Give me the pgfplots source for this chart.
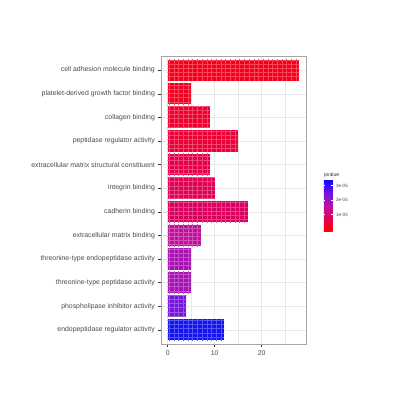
\documentclass[border=0pt]{standalone}
\usepackage{fontspec}
\setmainfont{Liberation Sans}
\usepackage{pgfplots}
\pgfplotsset{compat=1.18}
\usetikzlibrary{patterns.meta,calc}
\definecolor{c1}{HTML}{F5001A}
\definecolor{c2}{HTML}{F20022}
\definecolor{c3}{HTML}{EE002E}
\definecolor{c4}{HTML}{EB0038}
\definecolor{c5}{HTML}{E6004A}
\definecolor{c6}{HTML}{E20055}
\definecolor{c7}{HTML}{DC005E}
\definecolor{c8}{HTML}{C0109C}
\definecolor{c9}{HTML}{A812B4}
\definecolor{c10}{HTML}{A812B4}
\definecolor{c11}{HTML}{7414DC}
\definecolor{c12}{HTML}{1414F0}
\pgfplotsset{tile/.style={xbar, bar width=0.9, bar shift=0pt, draw=none, fill=#1,
  postaction={pattern={Lines[distance=4.7pt,angle=90,line width=0.5pt]}, pattern color=#1!72!white},
  postaction={pattern={Lines[distance=4.2pt,angle=0,line width=0.5pt]}, pattern color=#1!72!white}}}
\begin{document}
\begin{tikzpicture}
\path[use as bounding box, fill=white] (0,0) rectangle (400pt,400pt);
\begin{axis}[
  at={(161.1pt,56pt)}, anchor=south west,
  scale only axis, width=144.8pt, height=288pt,
  xmin=-1.4, xmax=29.4, ymin=0.4, ymax=12.6,
  xtick={0,10,20}, minor xtick={5,15,25},
  ytick={1,...,12},
  yticklabels={endopeptidase regulator activity, phospholipase inhibitor activity, threonine-type peptidase activity, threonine-type endopeptidase activity, extracellular matrix binding, cadherin binding, integrin binding, extracellular matrix structural constituent, peptidase regulator activity, collagen binding, platelet-derived growth factor binding, cell adhesion molecule binding},
  grid=both,
  major grid style={color=black!9, line width=0.5pt},
  minor grid style={color=black!9, line width=0.25pt},
  axis line style={black!35, line width=0.5pt},
  tick align=outside, tick pos=left,
  major tick length=2.7pt, minor tick length=0pt,
  tick style={color=black!80, line width=0.5pt},
  ticklabel style={font=\fontsize{6.9}{8}\selectfont, text=black!70},
  /pgf/number format/assume math mode=true,
  colormap={pv}{rgb255=(255,0,0) rgb255=(228,0,85) rgb255=(185,15,165) rgb255=(110,20,225) rgb255=(10,10,252)},
  point meta min=-0.15, point meta max=3.4,
  colorbar,
  colorbar style={
    at={($(parent axis.north east)+(9.4pt,-123.7pt)$)}, anchor=north west,
    scale only axis, width=8.7pt, height=51.6pt,
    ytick={1,2,3}, yticklabels={1e-05,2e-05,3e-05},
    yticklabel style={font=\fontsize{4.6}{5}\selectfont, text=black!70},
    /pgf/number format/assume math mode=true,
    axis line style={draw=none},
    tick align=inside, major tick length=1.6pt,
    tick style={color=white, line width=0.4pt},
    title={pvalue},
    title style={font=\fontsize{5.2}{6}\selectfont, text=black!80, at={(0,1)}, anchor=south west, inner sep=0pt, yshift=-4pt, xshift=0pt},
  },
]
\addplot[tile=c1] coordinates {(28,12)};
\addplot[tile=c2] coordinates {(5,11)};
\addplot[tile=c3] coordinates {(9,10)};
\addplot[tile=c4] coordinates {(15,9)};
\addplot[tile=c5] coordinates {(9,8)};
\addplot[tile=c6] coordinates {(10,7)};
\addplot[tile=c7] coordinates {(17,6)};
\addplot[tile=c8] coordinates {(7,5)};
\addplot[tile=c9] coordinates {(5,4)};
\addplot[tile=c10] coordinates {(5,3)};
\addplot[tile=c11] coordinates {(4,2)};
\addplot[tile=c12] coordinates {(12,1)};
\end{axis}
\end{tikzpicture}
\end{document}
